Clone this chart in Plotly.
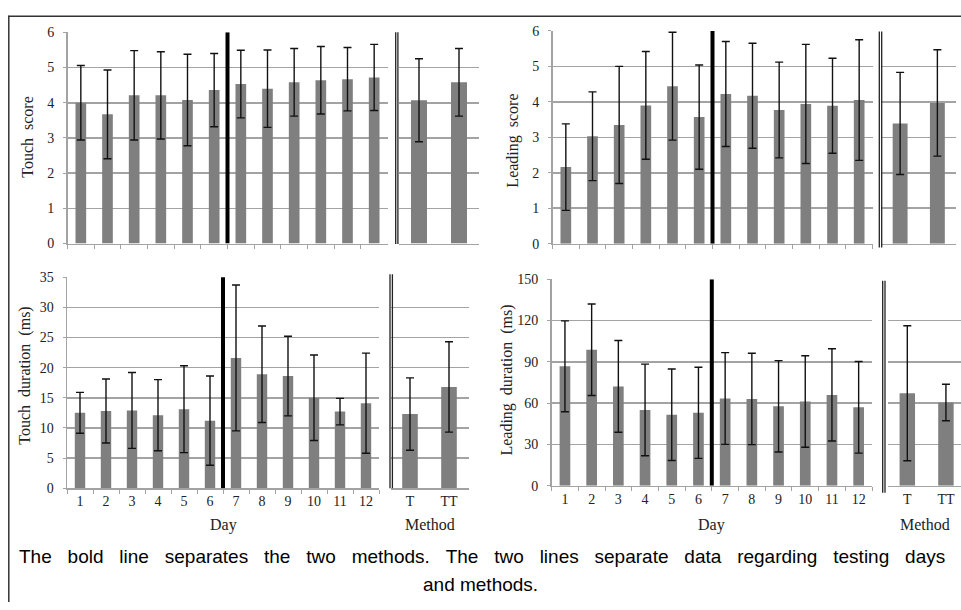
import plotly.graph_objects as go

W, H = 961, 610

days = ["1", "2", "3", "4", "5", "6", "7", "8", "9", "10", "11", "12"]
methods = ["T", "TT"]

touch_score_day = [4.00, 3.67, 4.21, 4.21, 4.08, 4.36, 4.53, 4.40, 4.58, 4.64, 4.67, 4.72]
touch_score_day_sd = [1.06, 1.26, 1.27, 1.24, 1.30, 1.04, 0.96, 1.10, 0.96, 0.96, 0.90, 0.94]
touch_score_method = [4.07, 4.58]
touch_score_method_sd = [1.18, 0.96]

leading_score_day = [2.16, 3.03, 3.35, 3.90, 4.44, 3.57, 4.22, 4.17, 3.77, 3.94, 3.89, 4.05]
leading_score_day_sd = [1.22, 1.25, 1.65, 1.52, 1.52, 1.47, 1.48, 1.48, 1.35, 1.68, 1.34, 1.70]
leading_score_method = [3.39, 3.97]
leading_score_method_sd = [1.44, 1.50]

touch_dur_day = [12.5, 12.8, 12.9, 12.1, 13.1, 11.2, 21.6, 18.9, 18.6, 15.0, 12.7, 14.1]
touch_dur_day_sd = [3.4, 5.3, 6.3, 5.9, 7.2, 7.4, 12.1, 8.0, 6.6, 7.1, 2.2, 8.3]
touch_dur_method = [12.3, 16.8]
touch_dur_method_sd = [6.0, 7.5]

leading_dur_day = [86.7, 98.7, 72.1, 55.0, 51.5, 52.9, 63.3, 63.0, 57.6, 61.1, 65.9, 56.9]
leading_dur_day_sd = [33.0, 33.2, 33.3, 33.3, 33.2, 33.1, 33.3, 33.2, 33.2, 33.2, 33.5, 33.3]
leading_dur_method = [67.1, 60.4]
leading_dur_method_sd = [49.0, 13.3]

y_titles = ["Touch\u00a0 score", "Leading\u00a0 score",
            "Touch\u00a0 duration\u00a0 (ms)", "Leading\u00a0 duration\u00a0 (ms)"]
x_titles = ["Day", "Method"]
caption1_words = ["The", "bold", "line", "separates", "the", "two", "methods.", "The", "two",
                  "lines", "separate", "data", "regarding", "testing", "days"]
caption2 = "and methods."

BAR = "#7f7f7f"
GRID = "#a3a3a3"
SERIF = "Times New Roman, Liberation Serif, serif"
SANS = "Arial, Liberation Sans, sans-serif"


def px(x):
    return x / W


def py(y):
    return 1 - y / H


# (day values, day sd, method values, method sd, y range, dtick,
#  day x px, method x px, y px (top, bottom), show x labels)
panels = [
    (touch_score_day, touch_score_day_sd, touch_score_method, touch_score_method_sd,
     [0, 6], 1, (67.5, 387.5), (399, 479), (26, 242.5), False),
    (leading_score_day, leading_score_day_sd, leading_score_method, leading_score_method_sd,
     [0, 6], 1, (552.5, 872.5), (881.5, 956), (24.5, 242.7), False),
    (touch_dur_day, touch_dur_day_sd, touch_dur_method, touch_dur_method_sd,
     [0, 35], 5, (67, 379), (390.5, 468.5), (277, 493.3), True),
    (leading_dur_day, leading_dur_day_sd, leading_dur_method, leading_dur_method_sd,
     [0, 150], 30, (551.6, 872), (888, 961), (279, 490.7), True),
]
method_ranges = [[-0.5, 1.5], [-0.5, 1.5], [-0.5, 1.5], [-0.5, 1.39]]
thick_top = [6, 6.03, 35.3, 150]
double_px = [((395.7, 397.9), (26, 243)), ((879.3, 881.7), (25, 246.5)),
             ((390, 392.4), (274, 493.3)), ((882.7, 885), (280.7, 498))]
ytitle_pos = [(28, 133), (513, 137), (25, 378), (507, 383)]
method_title_x = [None, None, 429.5, 925]

fig = go.Figure()
layout = dict(width=W, height=H, autosize=False,
              margin=dict(l=0, r=0, t=0, b=0),
              paper_bgcolor="white", plot_bgcolor="white",
              showlegend=False, bargap=0.6)
shapes = []
annotations = []

ax = 1
for i, (dv, ds, mv, ms, yr, dt, dxp, mxp, yp, showlab) in enumerate(panels):
    for kind, cats, vals, sds, xp in (("day", days, dv, ds, dxp), ("method", methods, mv, ms, mxp)):
        xa = "x" if ax == 1 else f"x{ax}"
        ya = "y" if ax == 1 else f"y{ax}"
        is_day = kind == "day"
        fig.add_trace(go.Bar(
            x=cats, y=vals, xaxis=xa, yaxis=ya, marker_color=BAR,
            marker_line_width=0,
            error_y=dict(type="data", array=sds, color="#111111", thickness=1.4, width=4),
        ))
        layout[f"xaxis{ax}"] = dict(
            domain=[px(xp[0]), px(xp[1])], anchor=ya, type="category",
            categoryorder="array", categoryarray=cats,
            range=[-0.5, len(cats) - 0.5] if is_day else method_ranges[i],
            showgrid=False, zeroline=False,
            showline=True, linecolor=GRID, linewidth=1.5,
            ticks="outside" if is_day else "", tickson="boundaries",
            ticklen=4, tickcolor=GRID, tickwidth=1,
            showticklabels=showlab,
            tickfont=dict(family=SERIF, size=14, color="#222222"),
            fixedrange=True,
        )
        layout[f"yaxis{ax}"] = dict(
            domain=[py(yp[1]), py(yp[0])], anchor=xa, range=yr, dtick=dt,
            showgrid=True, gridcolor=GRID, gridwidth=1.6, zeroline=False,
            showline=is_day, linecolor=GRID, linewidth=1.5,
            ticks="outside" if is_day else "", ticklen=3, tickcolor=GRID,
            showticklabels=is_day, ticklabelstandoff=6,
            tickfont=dict(family=SERIF, size=14, color="#222222"),
            fixedrange=True,
        )
        if is_day:
            # bold line between day 6 and day 7
            shapes.append(dict(type="line", xref=xa, yref=ya,
                               x0=5.5, x1=5.5, y0=0, y1=thick_top[i],
                               line=dict(color="black", width=4)))
            if showlab:
                annotations.append(dict(text=x_titles[0], xref="paper", yref="paper",
                                        x=px((xp[0] + xp[1]) / 2), y=py(531),
                                        showarrow=False, xanchor="center", yanchor="middle",
                                        font=dict(family=SERIF, size=16, color="#222222")))
        elif showlab:
            annotations.append(dict(text=x_titles[1], xref="paper", yref="paper",
                                    x=px(method_title_x[i]), y=py(531),
                                    showarrow=False, xanchor="center", yanchor="middle",
                                    font=dict(family=SERIF, size=16, color="#222222")))
        ax += 1
    (dx0, dx1), (dy0, dy1) = double_px[i]
    for xx in (dx0, dx1):
        shapes.append(dict(type="line", xref="paper", yref="paper",
                           x0=px(xx), x1=px(xx), y0=py(dy1), y1=py(dy0),
                           line=dict(color="#222222", width=1.3)))
    tx, ty = ytitle_pos[i]
    annotations.append(dict(text=y_titles[i], xref="paper", yref="paper",
                            x=px(tx), y=py(ty), textangle=-90, showarrow=False,
                            xanchor="center", yanchor="middle",
                            font=dict(family=SERIF, size=16, color="#222222")))

# outer frame (left and top edges)
shapes.append(dict(type="line", xref="paper", yref="paper", x0=px(8.8), x1=px(8.8),
                   y0=0, y1=py(9), line=dict(color="#333333", width=1.5)))
shapes.append(dict(type="line", xref="paper", yref="paper", x0=px(8), x1=1,
                   y0=py(9.5), y1=py(9.5), line=dict(color="#333333", width=1.5)))

caption1 = " \u00a0\u00a0".join(caption1_words)
annotations.append(dict(text=caption1, xref="paper", yref="paper", x=px(481.5), y=py(563),
                        showarrow=False, xanchor="center", yanchor="middle",
                        font=dict(family=SANS, size=19, color="black")))
annotations.append(dict(text=caption2, xref="paper", yref="paper", x=px(480), y=py(592),
                        showarrow=False, xanchor="center", yanchor="middle",
                        font=dict(family=SANS, size=19, color="black")))

layout["shapes"] = shapes
layout["annotations"] = annotations
fig.update_layout(**layout)
fig.write_html("out.html",
               config={"displayModeBar": False, "staticPlot": True},
               post_script="document.body.style.margin='0px';document.body.style.overflow='hidden';")
